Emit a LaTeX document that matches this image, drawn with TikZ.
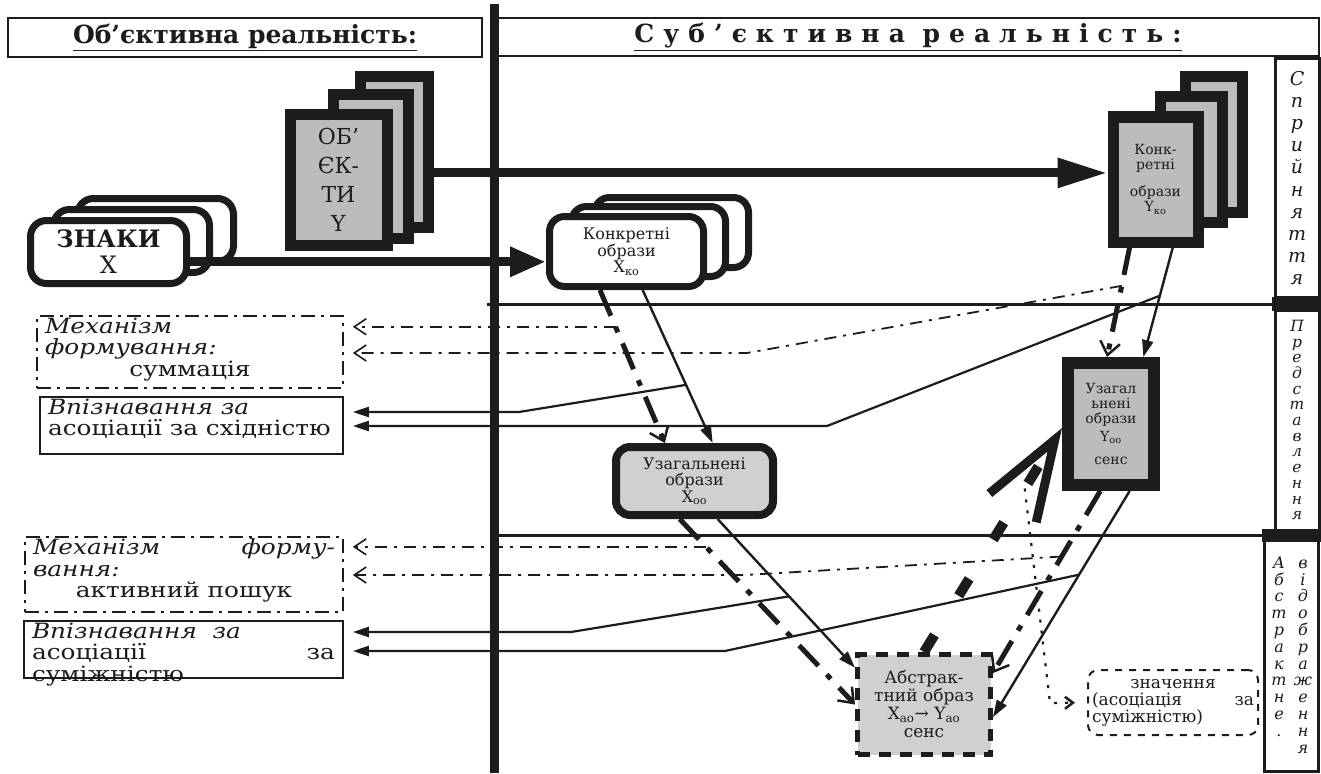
\documentclass[tikz,border=0pt]{standalone}
\usepackage{fontspec}
\setmainfont{DejaVu Serif}
\newfontfamily\sidefam{DejaVu Serif}[FakeStretch=1.18]
\usetikzlibrary{positioning,arrows.meta,calc}
\definecolor{ink}{HTML}{1C1C1C}
\definecolor{shade}{HTML}{BCBCBC}
\definecolor{pale}{HTML}{D0D0D0}

\newcommand{\hdrfont}{\fontsize{25}{28}\selectfont\bfseries}
\newcommand{\sidefont}{\sidefam\fontsize{21}{21.5}\selectfont}
\newcommand{\imgfont}{\fontsize{16}{16.5}\selectfont}
\newcommand{\labfont}[2]{\fontsize{#1}{#2}\selectfont\itshape\lineskiplimit=-30pt\lineskip=0pt}
\newcommand{\sidetext}[3]{\parbox[c][#2][t]{#1}{#3}}

\begin{document}
\begin{tikzpicture}[x=1pt,y=-1pt,
  every node/.style={text=ink},
  hdr/.style={draw=ink,line width=1.4pt,fill=white,font=\hdrfont,inner sep=0pt},
  sign/.style={draw=ink,line width=7pt,rounded corners=16pt,fill=white,minimum width=156pt,minimum height=63pt,inner sep=0pt},
  page/.style={draw=ink,line width=11pt,fill=shade,inner sep=0pt,align=center},
  conc/.style={draw=ink,line width=7pt,rounded corners=15pt,fill=white,minimum width=154pt,minimum height=70pt,inner sep=0pt,align=center,font=\imgfont},
  gen/.style={draw=ink,line width=8pt,rounded corners=14pt,fill=pale,inner sep=0pt,align=center,font=\imgfont},
  absbox/.style={draw=ink,line width=5pt,dash pattern=on 12pt off 9pt,fill=pale,inner sep=0pt,align=center,font=\fontsize{17}{18}\selectfont},
  meanbox/.style={draw=ink,line width=2pt,dash pattern=on 7pt off 7pt,rounded corners=10pt,inner sep=0pt,align=left,font=\fontsize{17}{17}\selectfont},
  mech/.style={draw=ink,line width=1.6pt,dash pattern=on 14pt off 6pt on 3pt off 6pt,inner xsep=8pt,inner ysep=2pt,font=\sidefont},
  recog/.style={draw=ink,line width=1.6pt,inner xsep=8pt,inner ysep=2pt,font=\sidefont},
  lab/.style={draw=ink,line width=3pt,fill=white,inner sep=0pt,align=center},
  heavy/.style={draw=ink,line width=9pt},
  flow/.style={draw=ink,line width=2.4pt,-{Triangle[length=17pt,width=11pt]}},
  trace/.style={draw=ink,line width=5pt,dash pattern=on 28pt off 12pt on 6pt off 12pt,-{Straight Barb[length=13pt,width=20pt,line width=2.5pt]}},
  strong/.style={draw=ink,line width=10pt,dash pattern=on 20pt off 46pt,-{Straight Barb[length=80pt,width=55pt,line width=9pt]}},
  weak/.style={draw=ink,line width=1.8pt,dash pattern=on 12pt off 7pt on 3pt off 7pt,-{Straight Barb[length=12pt,width=16pt,line width=1.6pt]}},
  back/.style={draw=ink,line width=2.2pt,-{Triangle[length=16pt,width=10pt]}},
  dotline/.style={draw=ink,line width=2.2pt,dash pattern=on 3pt off 8pt,shorten >=12pt,-{Straight Barb[length=8pt,width=12pt,line width=2.5pt]}}
]
\useasboundingbox (0,0) rectangle (1321,773);
\fill[white] (0,0) rectangle (1321,773);

\node[hdr,minimum width=474pt,minimum height=39pt] (hdrL) at (245,37.5) {\underline{Об'єктивна реальність:}};
\node[hdr,minimum width=822pt,minimum height=38pt] (hdrR) at (908,37) {\addfontfeature{LetterSpace=36}\underline{Суб'єктивна реальність:}};

\draw[line width=3pt,ink] (487,304) -- (1321,304);
\draw[line width=3pt,ink] (497,535) -- (1321,535);
\node[lab,minimum width=44pt,minimum height=238pt,font={\labfont{19}{22.2}}] (lab1) at (1297,178) {С\\п\\р\\и\\й\\н\\я\\т\\т\\я};
\node[lab,minimum width=44pt,minimum height=220pt,font={\labfont{15.5}{15.7}}] (lab2) at (1297,420) {П\\р\\е\\д\\с\\т\\а\\в\\л\\е\\н\\н\\я};
\node[lab,minimum width=54pt,minimum height=232pt,font={\labfont{16}{16.8}}] (lab3) at (1291,655)
  {\parbox[t]{20pt}{\centering А\\б\\с\\т\\р\\а\\к\\т\\н\\е\\.}\hspace{4pt}\parbox[t]{20pt}{\centering в\\і\\д\\о\\б\\р\\а\\ж\\е\\н\\н\\я}};
\fill[ink] (1272,297) rectangle (1321,311);
\fill[ink] (1262,529) rectangle (1321,542);

\node[sign] (sign3) at (155.5,230) {};
\node[sign] (sign2) at (131.5,241) {};
\node[sign,align=center,font=\fontsize{24}{26}\selectfont] (sign1) at (108.5,252) {\textbf{ЗНАКИ}\\X};

\node[page,minimum width=68pt,minimum height=150pt] (obj3) at (394,152) {};
\node[page,minimum width=75pt,minimum height=143pt] (obj2) at (370.5,166.5) {};
\node[page,minimum width=97pt,minimum height=130pt,font=\fontsize{22}{29}\selectfont] (obj1) at (338.5,180) {ОБ'\\ЄК-\\ТИ\\Y};

\node[page,minimum width=57pt,minimum height=135pt] (ky3) at (1213.5,144.5) {};
\node[page,minimum width=62pt,minimum height=125pt] (ky2) at (1191,159.5) {};
\node[page,minimum width=85pt,minimum height=125pt,font=\fontsize{14}{15}\selectfont] (ky1) at (1155.5,179.5) {Конк-\\ретні\\[12pt]образи\\Y\textsubscript{ко}};

\node[conc] (kx3) at (671.5,232.5) {};
\node[conc] (kx2) at (648.5,241.5) {};
\node[conc] (kx1) at (626.5,251.5) {Конкретні\\образи\\X\textsubscript{ко}};

\node[gen,minimum width=157pt,minimum height=68pt] (ux) at (694.5,481) {Узагальнені\\образи\\X\textsubscript{оо}};
\node[page,line width=12pt,minimum width=86pt,minimum height=122pt,font=\fontsize{14}{15}\selectfont] (uy) at (1111,424) {Узагал\\ьнені\\образи\\[3pt]Y\textsubscript{оо}\\[8pt]сенс};
\node[absbox,minimum width=133pt,minimum height=100pt] (ab) at (924,704.5) {Абстрак-\\тний образ\\X\textsubscript{ао}→ Y\textsubscript{ао}\\сенс};
\node[meanbox,minimum width=170pt,minimum height=65pt] (zn) at (1173,702.5) {\makebox[162pt]{значення}\\\makebox[162pt][s]{(асоціація за}\\суміжністю)};

\node[mech] (mech1) at (190,352) {\sidetext{290pt}{68pt}{\textit{Механізм}\\\textit{формування:}\\\makebox[\linewidth]{суммація}}};
\node[recog] (recog1) at (191.5,425.5) {\sidetext{287pt}{53pt}{\textit{Впізнавання за}\\асоціації за східністю}};
\node[mech] (mech2) at (184,574.5) {\sidetext{302pt}{71pt}{\makebox[\linewidth][s]{\itshape Механізм форму-}\\\textit{вання:}\\\makebox[\linewidth]{активний пошук}}};
\node[recog] (recog2) at (183.5,649.5) {\sidetext{303pt}{53pt}{\textit{Впізнавання\ \ за}\\\makebox[\linewidth][s]{асоціації за}\\суміжністю}};

\coordinate (sX) at ($(sign1.north east)!0.64!(sign1.south east)$);
\coordinate (sY) at ($(obj3.north east)!0.63!(obj3.south east)$);
\draw[heavy,-{Triangle[length=36pt,width=28pt]}] (sX) -- (kx1.west |- sX);
\draw[heavy,-{Triangle[length=50pt,width=28pt]}] (sY) -- (ky1.west |- sY);

\coordinate (kxL) at ($(kx1.south west)!0.335!(kx1.south east)$);
\coordinate (kxR) at ($(kx1.south west)!0.60!(kx1.south east)$);
\coordinate (uxL) at ($(ux.north west)!0.32!(ux.north east)$);
\coordinate (uxR) at ($(ux.north west)!0.61!(ux.north east)$);
\coordinate (uxBL) at ($(ux.south west)!0.41!(ux.south east)$);
\coordinate (uxBR) at ($(ux.south west)!0.64!(ux.south east)$);
\coordinate (kyL) at ($(ky1.south west)!0.23!(ky1.south east)$);
\coordinate (kyR) at ($(ky1.south west)!0.68!(ky1.south east)$);
\coordinate (uyL) at ($(uy.north west)!0.46!(uy.north east)$);
\coordinate (uyR) at ($(uy.north west)!0.83!(uy.north east)$);
\coordinate (uyBL) at ($(uy.south west)!0.39!(uy.south east)$);
\coordinate (uyBR) at ($(uy.south west)!0.69!(uy.south east)$);
\coordinate (uyW) at ($(uy.north west)!0.53!(uy.south west)$);
\coordinate (abLt) at ($(ab.north west)!0.15!(ab.south west)$);
\coordinate (abRt) at ($(ab.north east)!0.2!(ab.south east)$);
\coordinate (abRb) at ($(ab.north east)!0.62!(ab.south east)$);

\draw[trace] (kxL) -- (uxL);
\draw[flow] (kxR) -- (uxR);
\draw[trace] (kyL) -- (uyL);
\draw[flow] (kyR) -- (uyR);
\draw[trace] (uxBL) -- (ab.west);
\draw[flow] (uxBR) -- (abLt);
\draw[trace] (uyBL) -- (abRt);
\draw[flow] (uyBR) -- (abRb);
\draw[strong] (ab.north) -- (uyW);

\coordinate (bA) at ($(kxL)!0.24!(uxL)$);
\coordinate (bB) at ($(kxR)!0.62!(uxR)$);
\coordinate (bC) at ($(kyL)!0.35!(uyL)$);
\coordinate (bD) at ($(kyR)!0.44!(uyR)$);
\coordinate (bE) at ($(uxBL)!0.15!(ab.west)$);
\coordinate (bF) at ($(uyBL)!0.36!(abRt)$);
\coordinate (bG) at ($(uxBR)!0.52!(abLt)$);
\coordinate (bH) at ($(uyBR)!0.37!(abRb)$);
\coordinate (bI) at ($(ab.north)!0.73!(uyW)$);
\coordinate (kB) at (519,412);
\coordinate (kC) at (747,353);
\coordinate (kD) at (827,426);
\coordinate (kF) at (745,575);
\coordinate (kG) at (571,632);
\coordinate (kH) at (725,651);
\coordinate (kI) at (1050,703);

\draw[weak] (bA) -- ($(mech1.east |- bA)+(9,0)$);
\draw[weak] (bC) -- (kC) -- ($(mech1.east |- kC)+(9,0)$);
\draw[back] (bB) -- (kB) -- ($(recog1.east |- kB)+(9,0)$);
\draw[back] (bD) -- (kD) -- ($(recog1.east |- kD)+(9,0)$);
\draw[weak] (bE) -- ($(mech2.east |- bE)+(9,0)$);
\draw[weak] (bF) -- (kF) -- ($(mech2.east |- kF)+(9,0)$);
\draw[back] (bG) -- (kG) -- ($(recog2.east |- kG)+(9,0)$);
\draw[back] (bH) -- (kH) -- ($(recog2.east |- kH)+(9,0)$);
\draw[dotline] (bI) -- (kI) -- (zn.west);

\draw[line width=9pt,ink] (494,4) -- (494,773);
\end{tikzpicture}
\end{document}
